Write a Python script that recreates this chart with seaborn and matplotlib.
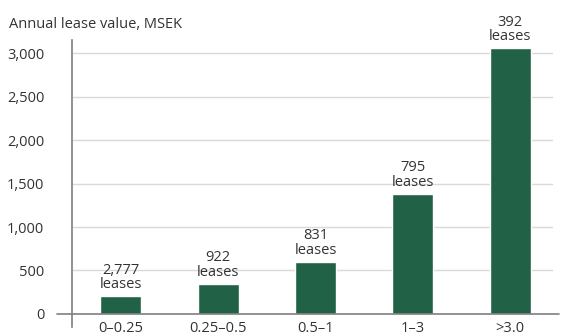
import matplotlib
matplotlib.use("Agg")
import matplotlib.pyplot as plt
import seaborn as sns
import pandas as pd

# Lease value by lease size bracket
categories = ["0–0.25", "0.25–0.5", "0.5–1", "1–3", ">3.0"]
values = [205, 345, 600, 1380, 3055]
lease_counts = ["2,777", "922", "831", "795", "392"]
yticks = [0, 500, 1000, 1500, 2000, 2500, 3000]

df = pd.DataFrame({"bracket": categories, "value": values})

sns.set_theme(style="white")
plt.rcParams["font.family"] = ["Open Sans", "DejaVu Sans"]

text_color = "#333333"
bar_color = "#216247"

fig = plt.figure(figsize=(5.61, 3.34), dpi=100)
ax = fig.add_axes([0.1283, 0.021, 0.8681, 0.859])

sns.barplot(data=df, x="bracket", y="value", color=bar_color, width=0.42,
            saturation=1, ax=ax, zorder=3)

ax.set_xlim(-0.5, 4.5)
ax.set_ylim(-150, 3150)
ax.set_yticks(yticks)
ax.set_yticklabels([f"{v:,}" for v in yticks], fontsize=10.5, color=text_color)
ax.tick_params(axis="y", length=0, pad=20)
ax.tick_params(axis="x", length=0, pad=-4, labelsize=10.5, labelcolor=text_color)

for v in yticks[1:]:
    ax.axhline(v, color="#d9d9d9", linewidth=1.0, zorder=1, xmax=0.985)
ax.axhline(0, xmin=-0.03, xmax=1.0, color="#7f7f7f", linewidth=1.2,
           clip_on=False, zorder=4)

for side in ["top", "right", "bottom"]:
    ax.spines[side].set_visible(False)
ax.spines["left"].set_color("#7f7f7f")
ax.spines["left"].set_linewidth(1.2)

ax.set_xlabel("")
ax.set_ylabel("")

for i, (v, n) in enumerate(zip(values, lease_counts)):
    ax.annotate(f"{n}\nleases", xy=(i, v), xytext=(0, 3),
                textcoords="offset points", ha="center", va="bottom",
                fontsize=10.5, color=text_color, linespacing=0.95)

fig.text(9 / 561, 1 - 25 / 334, "Annual lease value, MSEK", ha="left",
         va="center", fontsize=10.5, color=text_color)

fig.savefig("out.png", dpi=100)
